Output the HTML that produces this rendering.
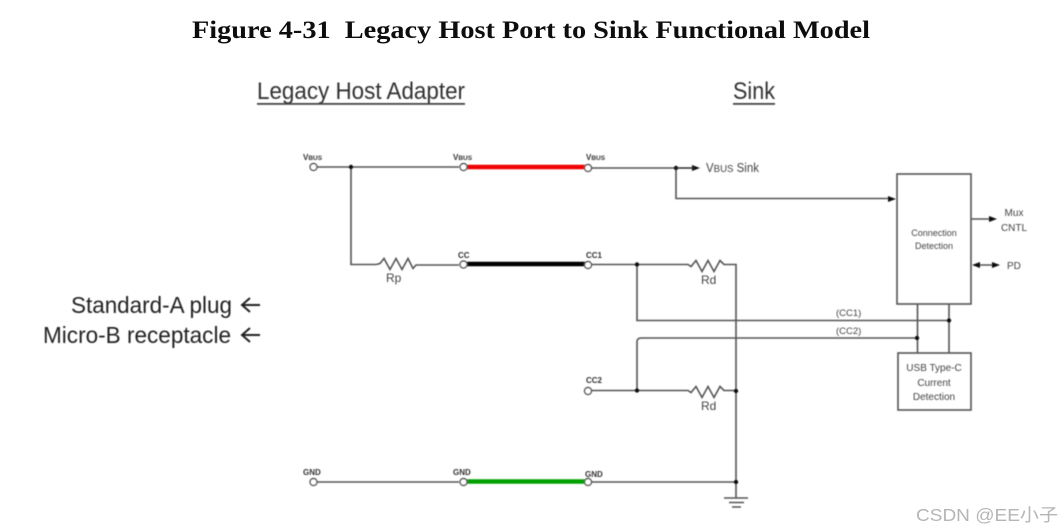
<!DOCTYPE html>
<html><head><meta charset="utf-8"><style>
html,body{margin:0;padding:0;background:#fff;width:1062px;height:532px;overflow:hidden}
svg{display:block}
text{font-family:"Liberation Sans","Noto Sans CJK SC",sans-serif;fill:#444}
</style></head><body>
<svg width="1062" height="532" viewBox="0 0 1062 532" xmlns="http://www.w3.org/2000/svg">
<defs><filter id="b" x="-5%" y="-5%" width="110%" height="110%"><feGaussianBlur stdDeviation="0.55"/></filter>
<filter id="t" x="-5%" y="-5%" width="110%" height="110%"><feGaussianBlur stdDeviation="0.3"/></filter></defs>
<g filter="url(#t)">
<text x="192" y="38" font-size="25" font-weight="bold" textLength="678" lengthAdjust="spacingAndGlyphs" style="font-family:'Liberation Serif',serif;fill:#111">Figure 4-31&#160;&#160;Legacy Host Port to Sink Functional Model</text>
</g>
<g filter="url(#b)">
<text x="257" y="99" font-size="24.500" textLength="208" lengthAdjust="spacingAndGlyphs" style="fill:#333">Legacy Host Adapter</text>
<rect x="257" y="103" width="208" height="1.800" fill="#444"/>
<text x="733" y="99" font-size="24.500" textLength="42" lengthAdjust="spacingAndGlyphs" style="fill:#333">Sink</text>
<rect x="733" y="103" width="42" height="1.800" fill="#444"/>
<text x="71" y="313" font-size="23" textLength="161" lengthAdjust="spacingAndGlyphs" style="fill:#222">Standard-A plug</text>
<text x="43" y="343" font-size="23" textLength="188" lengthAdjust="spacingAndGlyphs" style="fill:#222">Micro-B receptacle</text>
<path d="M242 305H260M250 298L242 305L250 312M242 335H260M250 328L242 335L250 342" fill="none" stroke="#222" stroke-width="2"/>
<g fill="none" stroke="#555" stroke-width="1.600">
<path d="M317 167H459"/>
<path d="M351 167V264.500H376"/>
<path d="M376 264.500l4-1 4-5 6 11 6-11 6 11 6-11 5 10 3-3.500H459"/>
<path d="M592 168H696"/>
<path d="M676 168V198.500H888"/>
<path d="M592 264.500H688l3 2 5-6 6 11 6-11 6 11 6-11 4 4H736V498"/>
<path d="M637 264.500V320.500H949"/>
<path d="M917 338H641Q637 338 637 342V390.500"/>
<path d="M592 390.500H688l3 2 5-6 6 11 6-11 6 11 6-11 4 4H736"/>
<path d="M592 482H736"/>
<path d="M724 498H748M729 502.500H744M732 507H741"/>
<rect x="897" y="174" width="74" height="130"/>
<rect x="898" y="353" width="73" height="57"/>
<path d="M917.500 304V353M949 304V353"/>
<path d="M971 219H990M976 265H996"/>
<path d="M317 482H459"/>
</g>
<g stroke-width="4.500">
<path d="M467 167H585" stroke="#f00000"/>
<path d="M467 264H585" stroke="#000"/>
<path d="M467 481.500H585" stroke="#00a000"/>
</g>
<g fill="#fff" stroke="#555" stroke-width="1.400">
<circle cx="313.500" cy="167" r="3.500"/><circle cx="463.500" cy="167" r="3.500"/><circle cx="588" cy="168" r="3.500"/>
<circle cx="463.500" cy="264.500" r="3.500"/><circle cx="588" cy="265" r="3.500"/><circle cx="588" cy="391" r="3.500"/>
<circle cx="313.500" cy="482" r="3.500"/><circle cx="463.500" cy="482" r="3.500"/><circle cx="588" cy="482" r="3.500"/>
</g>
<g fill="#111">
<circle cx="351" cy="167" r="2.200"/><circle cx="676" cy="168" r="2.200"/><circle cx="637" cy="264.500" r="2.200"/>
<circle cx="949" cy="320.500" r="2.200"/><circle cx="917" cy="338" r="2.200"/><circle cx="637" cy="390.500" r="2.200"/>
<circle cx="736" cy="391" r="2.200"/><circle cx="736" cy="482" r="2.200"/>
<path d="M700 168l-8-3v6zM896 199l-8-3v6zM997 219l-8-3v6zM1000 265l-8-3v6zM972 265l8-3v6z"/>
<path d="M676 168H694" stroke="#333" stroke-width="1.300"/>
</g>
<g font-weight="bold" style="fill:#333">
<text x="303" y="160" font-size="8" style="fill:#333">V<tspan font-size="6.500">BUS</tspan></text>
<text x="453" y="160" font-size="8" style="fill:#333">V<tspan font-size="6.500">BUS</tspan></text>
<text x="586" y="160" font-size="8" style="fill:#333">V<tspan font-size="6.500">BUS</tspan></text>
<text x="458" y="258" font-size="8" style="fill:#333">CC</text>
<text x="586" y="258" font-size="8" style="fill:#333">CC1</text>
<text x="586" y="383" font-size="8" style="fill:#333">CC2</text>
<text x="303" y="475" font-size="8" style="fill:#333">GND</text>
<text x="453" y="475" font-size="8" style="fill:#333">GND</text>
<text x="585" y="477" font-size="8" style="fill:#333">GND</text>
</g>
<text x="386" y="282" font-size="12">Rp</text>
<text x="701" y="284" font-size="12">Rd</text>
<text x="701" y="410" font-size="12">Rd</text>
<text x="706" y="172" font-size="12.500" textLength="53" lengthAdjust="spacingAndGlyphs">V<tspan font-size="10.500">BUS</tspan> Sink</text>
<text x="836" y="316" font-size="9.500">(CC1)</text>
<text x="836" y="334" font-size="9.500">(CC2)</text>
<text x="934" y="236" font-size="9" text-anchor="middle">Connection</text>
<text x="934" y="249" font-size="9" text-anchor="middle">Detection</text>
<text x="934" y="371" font-size="10" text-anchor="middle">USB Type-C</text>
<text x="934" y="386" font-size="10" text-anchor="middle">Current</text>
<text x="934" y="400" font-size="10" text-anchor="middle">Detection</text>
<text x="1014" y="216" font-size="10" text-anchor="middle">Mux</text>
<text x="1014" y="231" font-size="10" text-anchor="middle">CNTL</text>
<text x="1007" y="269" font-size="10">PD</text>
</g>
<text x="916" y="521" font-size="17.500" textLength="142" lengthAdjust="spacingAndGlyphs" style="fill:#b5b5b5">CSDN @EE小子</text>
</svg>
</body></html>
